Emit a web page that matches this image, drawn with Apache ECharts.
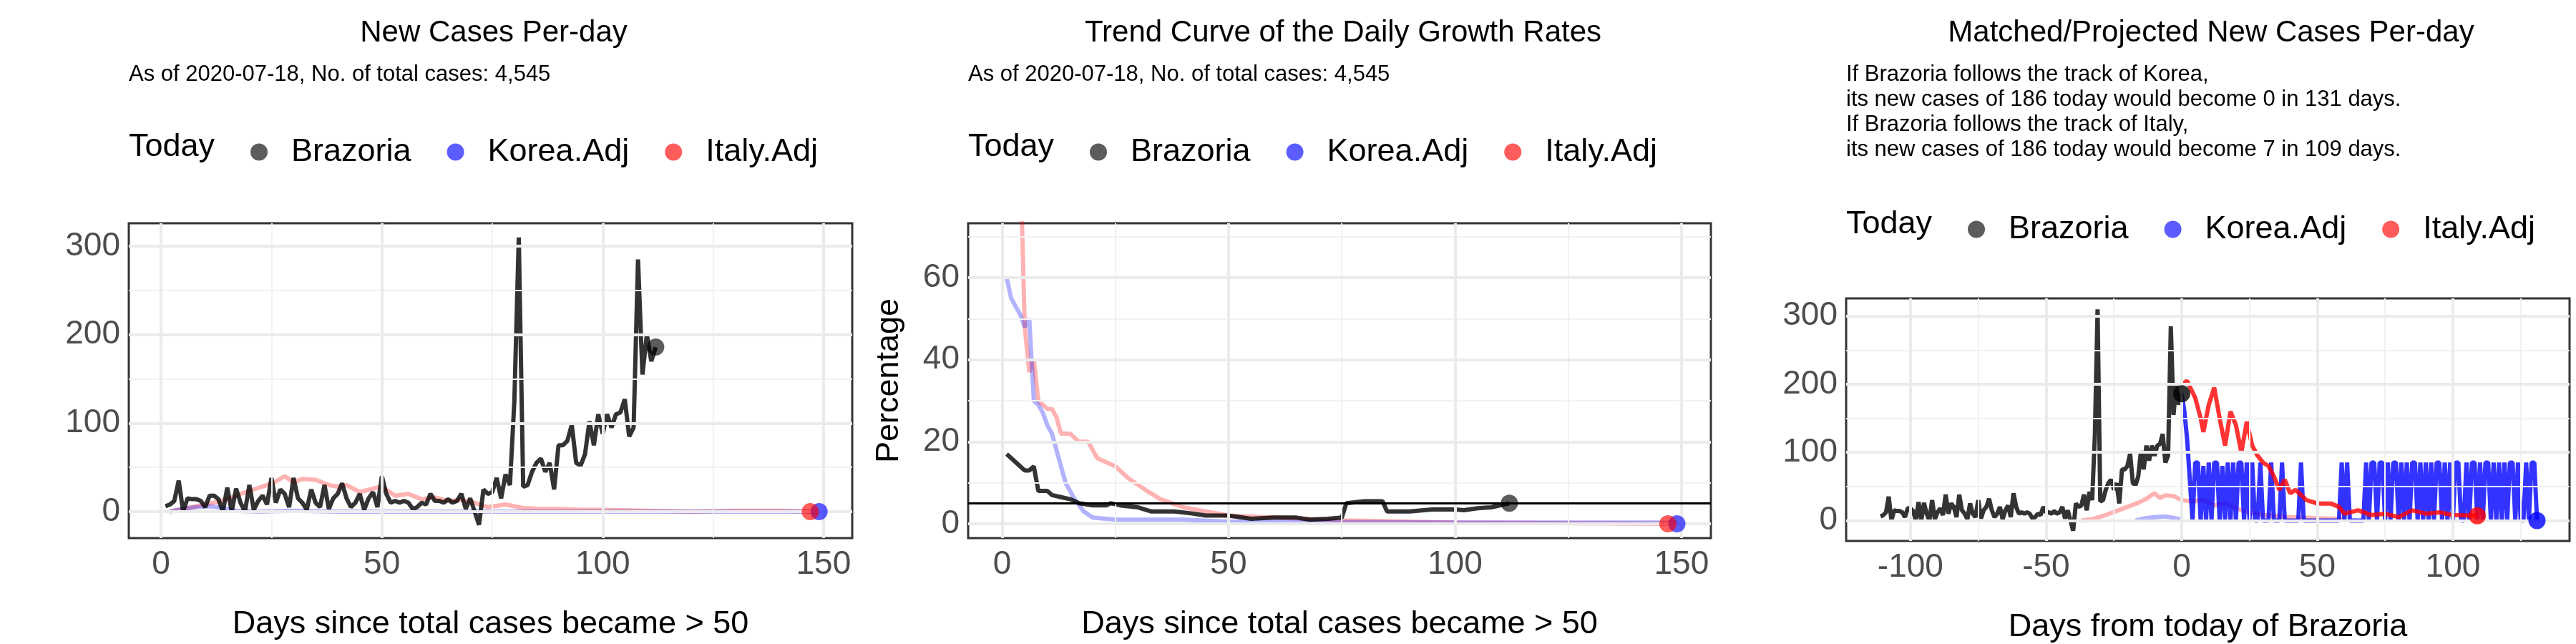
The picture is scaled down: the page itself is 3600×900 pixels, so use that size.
<!DOCTYPE html>
<html>
<head>
<meta charset="utf-8">
<script src="https://cdn.jsdelivr.net/npm/echarts@6/dist/echarts.min.js"></script>
<style>html,body{margin:0;background:#fff}#cnv{width:3600px;height:900px}</style>
</head>
<body>
<div id="cnv"></div>
<script>
// Brazoria daily new cases, days 1..112
var brazoriaCases = [6, 8, 12, 35, 0, 15, 14, 14, 12, 5, 18, 18, 14, 0, 27, 0, 26, 10, 0, 30,
  2, 12, 18, 8, 38, 10, 25, 20, 5, 38, 15, 10, 2, 25, 10, 5, 30, 3, 15, 20,
  32, 15, 5, 10, 20, 2, 15, 22, 5, 40, 20, 10, 12, 10, 12, 10, 3, 5, 10, 8,
  20, 12, 12, 10, 14, 10, 12, 20, 3, 15, 0, -15, 25, 20, 22, 38, 15, 42, 30, 125,
  310, 28, 30, 45, 55, 60, 45, 55, 25, 75, 75, 80, 98, 55, 52, 65, 102, 75, 110, 88,
  110, 95, 110, 112, 127, 85, 95, 285, 155, 200, 170, 186];
// Italy.Adj / Korea.Adj new cases [day, value]
var italyCases = [[2, 0], [5, 3], [8, 6], [12, 10], [15, 14], [18, 20], [21, 25], [24, 30], [26, 34], [28, 40],
  [30, 33], [32, 37], [35, 36], [38, 30], [40, 28], [42, 30], [45, 22], [48, 26], [50, 28], [53, 18],
  [56, 20], [59, 14], [62, 16], [65, 12], [68, 13], [71, 10], [74, 5], [78, 8], [82, 4], [86, 3],
  [90, 3], [95, 2], [100, 2], [110, 1], [120, 0], [130, 1], [140, 1], [147, 0]];
var koreaCases = [[2, 0], [5, 3], [8, 5], [11, 6], [14, 4], [17, 1], [22, 0], [30, 1], [40, 0], [50, 0],
  [70, 0], [90, 0], [110, 0], [130, 0], [149, 0]];
// daily growth rates (%)
var brazoriaGrowth = [[1, 17], [3, 15], [5, 13], [6, 13], [7, 14], [8, 8], [10, 8], [11, 7], [13, 6.5], [15, 6],
  [17, 5], [20, 4.5], [23, 4.5], [24, 5], [26, 4.5], [30, 4], [33, 3], [38, 3], [42, 2.5], [45, 2],
  [50, 2], [55, 1.2], [60, 1.5], [65, 1.5], [68, 1], [72, 1.2], [75, 1.5], [76, 5], [80, 5.5], [84, 5.5],
  [85, 3], [90, 3], [95, 3.5], [100, 3.5], [102, 3.3], [105, 3.8], [108, 4], [112, 5]];
var koreaGrowth = [[1, 60], [2, 55], [4, 51], [5, 48], [6, 50], [7, 30], [8, 29], [9, 27], [10, 24], [11, 22],
  [12, 18], [14, 10], [16, 6], [18, 3], [20, 1.5], [25, 1], [40, 1], [50, 0.5], [60, 0.5], [100, 0.3], [149, 0.3]];
var italyGrowth = [[4, 90], [5, 48], [6, 37], [7, 40], [8, 30], [10, 28], [11, 28], [12, 26], [13, 22], [15, 22],
  [17, 20], [19, 20], [21, 16], [25, 14], [28, 11], [32, 8], [35, 6], [40, 4], [50, 2], [60, 1.5],
  [75, 0.8], [100, 0.3], [147, 0]];
var thresholdRate = 5;
// matched / projected (days from today)
var italyPast = [[-37, 0], [-33, 2], [-28, 8], [-24, 14], [-20, 20], [-16, 26], [-13, 32], [-10, 40], [-8, 33],
  [-6, 37], [-3, 36], [0, 30], [4, 28], [8, 30], [12, 22], [16, 26], [20, 18], [25, 12], [30, 8], [40, 5], [60, 2]];
var koreaPast = [[-17, 0], [-14, 3], [-10, 5], [-6, 6], [-3, 4], [0, 1]];
var italyProj = [[0, 200], [2, 205], [5, 180], [7, 150], [8, 130], [10, 170], [12, 195], [14, 150], [16, 110], [18, 160],
  [20, 140], [22, 100], [24, 145], [26, 110], [28, 95], [30, 85], [32, 80], [34, 65], [36, 45], [38, 60],
  [40, 40], [42, 45], [46, 30], [50, 25], [55, 25], [58, 20], [60, 10], [65, 15], [70, 8], [75, 10],
  [80, 5], [85, 15], [90, 10], [95, 12], [100, 8], [109, 7]];
var koreaProj = [186, 160, 120, 60, 0, 85, 85, 0, 80, 0, 85, 0, 85, 85, 0, 80, 0, 85, 0, 85, 0, 85, 85, 0, 85, 0, 85, 0, 0, 85,
  0, 0, 0, 85, 0, 0, 0, 85, 0, 0, 0, 0, 0, 0, 85, 0, 0, 0, 0, 0, 0, 0, 0, 0, 0, 0, 0, 0, 0, 85,
  0, 85, 0, 0, 0, 0, 0, 0, 85, 0, 85, 85, 0, 85, 85, 0, 85, 0, 85, 85, 0, 85, 0, 85, 0, 85, 85, 0, 85, 0,
  85, 0, 85, 0, 85, 85, 0, 85, 0, 85, 0, 85, 85, 0, 0, 85, 0, 85, 85, 0, 85, 0, 85, 85, 0, 85, 0, 85, 0, 85,
  0, 85, 85, 0, 85, 0, 0, 85, 0, 85, 85, 0];
var todayPoints1 = [[112, 186], [149, 0], [147, 0]];
var todayPoints2 = [[112, 5], [149, 0], [147, 0]];
var todayPoints3 = [[0, 186], [131, 0], [109, 7]];
// tick labels and grid lines
var xTicks = [0, 50, 100, 150], xTicks3 = [-100, -50, 0, 50, 100];
var yTicks1 = [0, 100, 200, 300], yTicks2 = [0, 20, 40, 60];
var minorX = [25, 75, 125], minorX3 = [-75, -25, 25, 75, 125];
var minorY1 = [50, 150, 250], minorY2 = [10, 30, 50, 70];

var FONT = '"Liberation Sans", Arial, sans-serif';
var brazPairs = brazoriaCases.map(function (v, i) { return [i + 1, v]; });
var brazPast = brazoriaCases.map(function (v, i) { return [i - 111, v]; });
var koreaProjPairs = koreaProj.map(function (v, i) { return [i, v]; });

var grids = [
  { left: 180, top: 312, width: 1011, height: 454 },
  { left: 1353, top: 312, width: 1038, height: 454 },
  { left: 2580, top: 417, width: 1011, height: 349 }
];
function xAx(i, min, max, ticks, name) {
  return {
    type: 'value', gridIndex: i, min: min, max: max, name: name,
    nameLocation: 'middle', nameGap: 98, nameTextStyle: { fontFamily: FONT, fontSize: 45, color: '#000' },
    axisLine: { show: false }, axisTick: { length: 9, customValues: ticks, lineStyle: { color: '#333', width: 3 } },
    axisLabel: { fontFamily: FONT, fontSize: 46, color: '#4d4d4d', margin: 14, customValues: ticks },
    splitLine: { show: false }
  };
}
function yAx(i, min, max, ticks, name) {
  return {
    type: 'value', gridIndex: i, min: min, max: max, name: name,
    nameLocation: 'middle', nameGap: 88, nameTextStyle: { fontFamily: FONT, fontSize: 45, color: '#000' },
    axisLine: { show: false }, axisTick: { length: 9, customValues: ticks, lineStyle: { color: '#333', width: 3 } },
    axisLabel: { fontFamily: FONT, fontSize: 46, color: '#4d4d4d', margin: 12, customValues: ticks },
    splitLine: { show: false }
  };
}
function line(i, data, color, w) {
  return { type: 'line', xAxisIndex: i, yAxisIndex: i, data: data, symbol: 'none', silent: true,
    lineStyle: { color: color, width: w || 6 }, z: 3 };
}
function dots(i, pts, alpha) {
  var names = ['Brazoria', 'Korea.Adj', 'Italy.Adj'];
  var cols = ['rgba(0,0,0,' + alpha + ')', 'rgba(0,0,255,' + alpha + ')', 'rgba(255,0,0,' + alpha + ')'];
  return pts.map(function (p, k) {
    return { type: 'scatter', name: names[k], xAxisIndex: i, yAxisIndex: i, data: [p], symbolSize: 24,
      itemStyle: { color: cols[k] }, z: 5 };
  });
}
function gridLines(i, xs, ys, color, w) {
  var d = xs.map(function (v) { return { xAxis: v }; }).concat(ys.map(function (v) { return { yAxis: v }; }));
  return { type: 'line', xAxisIndex: i, yAxisIndex: i, data: [], silent: true, z: 1,
    markLine: { symbol: 'none', silent: true, label: { show: false }, animation: false,
      lineStyle: { color: color, width: w, type: 'solid' }, data: d } };
}
function legend(i, top) {
  var lefts = [345, 1518, 2745];
  return { left: lefts[i], top: top, icon: 'circle', itemWidth: 24, itemHeight: 24, itemGap: 50,
    selectedMode: false, data: ['Brazoria', 'Korea.Adj', 'Italy.Adj'],
    textStyle: { fontFamily: FONT, fontSize: 45, color: '#000', padding: [0, 0, 0, 28] } };
}
function txt(x, y, s, size) {
  return { type: 'text', left: x, top: y, style: { text: s, fontFamily: FONT, fontSize: size, fill: '#000' } };
}
function ttl(x, s) {
  return { text: s, left: x, top: 20, textAlign: 'center', textStyle: { fontFamily: FONT, fontSize: 42, fontWeight: 'normal', color: '#000' } };
}

var main = document.getElementById('cnv');
var myechart = echarts.init(main);
var option = {
  backgroundColor: '#fff',
  animation: false,
  title: [
    ttl(685, 'New Cases Per-day'),
    ttl(1872, 'Trend Curve of the Daily Growth Rates'),
    ttl(3085, 'Matched/Projected New Cases Per-day')
  ],
  graphic: [
    txt(180, 89, 'As of 2020-07-18, No. of total cases: 4,545', 31),
    txt(1353, 89, 'As of 2020-07-18, No. of total cases: 4,545', 31),
    txt(2580, 89, 'If Brazoria follows the track of Korea,', 31),
    txt(2580, 124, 'its new cases of 186 today would become 0 in 131 days.', 31),
    txt(2580, 159, 'If Brazoria follows the track of Italy,', 31),
    txt(2580, 194, 'its new cases of 186 today would become 7 in 109 days.', 31),
    txt(180, 183, 'Today', 45),
    txt(1353, 183, 'Today', 45),
    txt(2580, 291, 'Today', 45)
  ],
  legend: [legend(0, 185), legend(1, 185), legend(2, 293)],
  grid: grids.map(function (g) { return Object.assign({ show: true, borderColor: '#333', borderWidth: 3, backgroundColor: 'transparent' }, g); }),
  xAxis: [
    xAx(0, -7.3, 156.5, xTicks, 'Days since total cases became > 50'),
    xAx(1, -7.5, 156.5, xTicks, 'Days since total cases became > 50'),
    xAx(2, -123.7, 143, xTicks3, 'Days from today of Brazoria')
  ],
  yAxis: [
    yAx(0, -30, 326, yTicks1, ''),
    yAx(1, -3.5, 73.3, yTicks2, 'Percentage'),
    yAx(2, -30, 326, yTicks1, '')
  ],
  series: [].concat(
    [gridLines(0, minorX, minorY1, '#f2f2f2', 2), gridLines(1, minorX, minorY2, '#f2f2f2', 2), gridLines(2, minorX3, minorY1, '#f2f2f2', 2),
     gridLines(0, xTicks, yTicks1, '#ebebeb', 4), gridLines(1, xTicks, yTicks2, '#ebebeb', 4), gridLines(2, xTicks3, yTicks1, '#ebebeb', 4)],
    [line(0, italyCases, 'rgba(255,0,0,0.3)'), line(0, koreaCases, 'rgba(0,0,255,0.3)'), line(0, brazPairs, 'rgba(0,0,0,0.8)')],
    dots(0, todayPoints1, 0.8),
    [line(1, italyGrowth, 'rgba(255,0,0,0.3)'), line(1, koreaGrowth, 'rgba(0,0,255,0.3)'), line(1, brazoriaGrowth, 'rgba(0,0,0,0.8)'),
     { type: 'line', xAxisIndex: 1, yAxisIndex: 1, data: [], markLine: { symbol: 'none', silent: true, label: { show: false },
       lineStyle: { color: '#000', width: 3, type: 'solid' }, data: [{ yAxis: thresholdRate }] } }],
    dots(1, todayPoints2, 0.8),
    [line(2, italyPast, 'rgba(255,0,0,0.3)'), line(2, koreaPast, 'rgba(0,0,255,0.3)'), line(2, brazPast, 'rgba(0,0,0,0.8)'),
     line(2, koreaProjPairs, 'rgba(0,0,255,0.8)'), line(2, italyProj, 'rgba(255,0,0,0.8)')],
    dots(2, todayPoints3, 1)
  )
};
myechart.setOption(option);
</script>
</body>
</html>
